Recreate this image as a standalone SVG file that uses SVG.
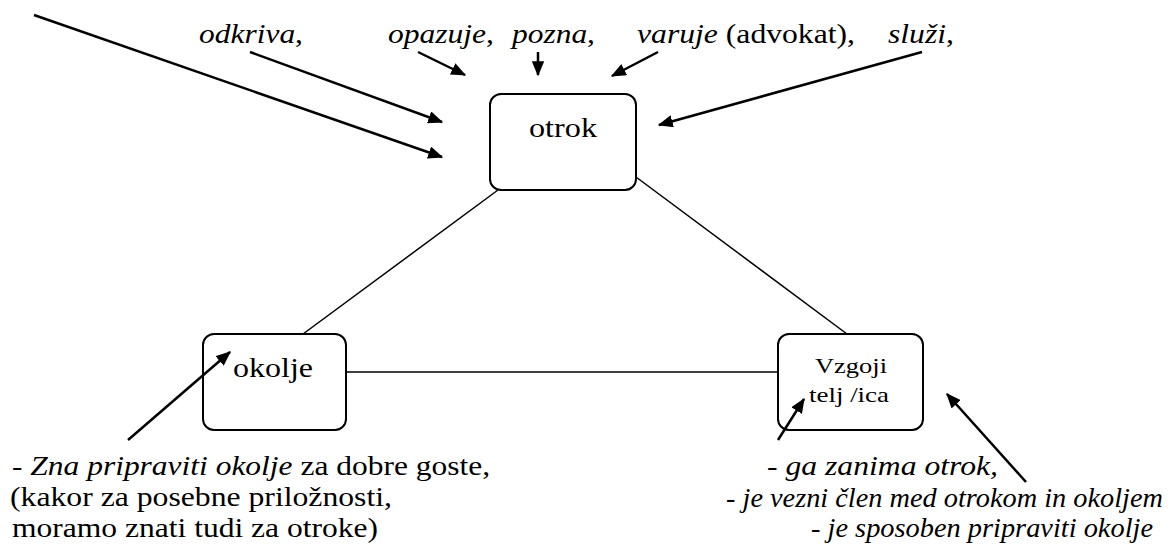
<svg xmlns="http://www.w3.org/2000/svg" width="1171" height="558" viewBox="0 0 1171 558">
<style>
text{font-family:'Liberation Serif','Times New Roman',serif;fill:#000;}
.t{font-size:27px;}
.s{font-size:22px;}
.i{font-style:italic;}
.box{fill:none;stroke:#000;stroke-width:2;}
.ln{stroke:#000;stroke-width:1.5;fill:none;}
.ar{stroke:#000;stroke-width:2.5;fill:none;marker-end:url(#ah);}
</style>
<defs>
<marker id="ah" viewBox="0 0 12 10" refX="11" refY="5" markerWidth="6" markerHeight="5" markerUnits="strokeWidth" orient="auto">
<path d="M0,0 L12,5 L0,10 z" fill="#000"/>
</marker>
</defs>
<g id="connectors">
<line class="ln" x1="498" y1="190" x2="303" y2="334"/>
<line class="ln" x1="636" y1="177" x2="847" y2="334"/>
<line class="ln" x1="346" y1="372" x2="778" y2="372"/>
<line class="ar" x1="34" y1="15" x2="442" y2="157"/>
<line class="ar" x1="250" y1="52" x2="442" y2="122"/>
<line class="ar" x1="418" y1="52" x2="465" y2="75"/>
<line class="ar" x1="538" y1="52" x2="538" y2="75"/>
<line class="ar" x1="658" y1="52" x2="612" y2="76"/>
<line class="ar" x1="922" y1="52" x2="659" y2="125"/>
<line class="ar" x1="128" y1="440" x2="230" y2="352"/>
<line class="ar" x1="778" y1="440" x2="804" y2="399"/>
<line class="ar" x1="1026" y1="482" x2="947" y2="394"/>
</g>
<g id="node-otrok">
<rect class="box" x="490" y="94" width="146" height="96" rx="11"/>
<text class="t" x="529" y="137" textLength="68" lengthAdjust="spacingAndGlyphs">otrok</text>
</g>
<g id="node-okolje">
<rect class="box" x="203" y="334" width="143" height="96" rx="11"/>
<text class="t" x="233" y="377" textLength="80" lengthAdjust="spacingAndGlyphs">okolje</text>
</g>
<g id="node-vzgojitelj">
<rect class="box" x="778" y="334" width="145" height="96" rx="11"/>
<text class="s" x="815" y="373" textLength="72" lengthAdjust="spacingAndGlyphs">Vzgoji</text>
<text class="s" x="809" y="402" textLength="80" lengthAdjust="spacingAndGlyphs">telj /ica</text>
</g>
<g id="labels-top">
<text class="t" x="199" y="43" textLength="104" lengthAdjust="spacingAndGlyphs"><tspan class="i">odkriva</tspan>,</text>
<text class="t" x="388" y="43" textLength="106" lengthAdjust="spacingAndGlyphs"><tspan class="i">opazuje</tspan>,</text>
<text class="t" x="512" y="43" textLength="83" lengthAdjust="spacingAndGlyphs"><tspan class="i">pozna</tspan>,</text>
<text class="t" x="637" y="43" textLength="218" lengthAdjust="spacingAndGlyphs"><tspan class="i">varuje</tspan> (advokat),</text>
<text class="t" x="888" y="43" textLength="66" lengthAdjust="spacingAndGlyphs"><tspan class="i">služi</tspan>,</text>
</g>
<g id="labels-okolje">
<text class="t" x="12" y="475" textLength="478" lengthAdjust="spacingAndGlyphs">- <tspan class="i">Zna pripraviti okolje</tspan> za dobre goste,</text>
<text class="t" x="10" y="506" textLength="382" lengthAdjust="spacingAndGlyphs">(kakor za posebne priložnosti,</text>
<text class="t" x="12" y="537" textLength="366" lengthAdjust="spacingAndGlyphs">moramo znati tudi za otroke)</text>
</g>
<g id="labels-vzgojitelj">
<text class="t i" x="767" y="475" textLength="231" lengthAdjust="spacingAndGlyphs">- ga zanima otrok,</text>
<text class="t i" x="726" y="507" textLength="437" lengthAdjust="spacingAndGlyphs">- je vezni člen med otrokom in okoljem</text>
<text class="t i" x="811" y="537" textLength="342" lengthAdjust="spacingAndGlyphs">- je sposoben pripraviti okolje</text>
</g>
</svg>
